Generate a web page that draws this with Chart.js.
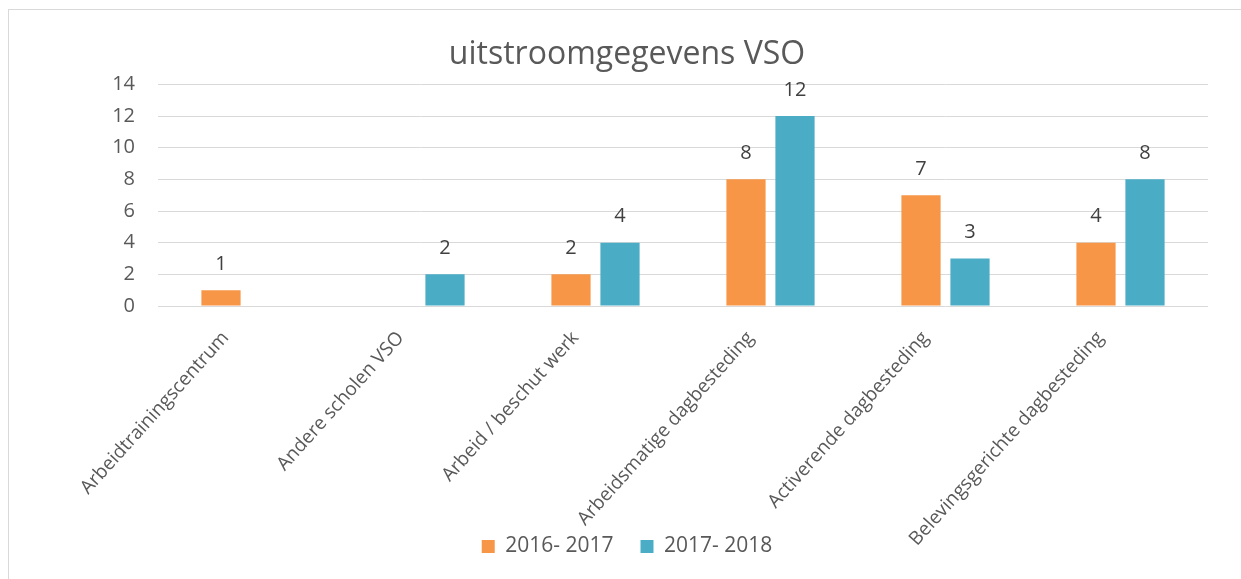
<!DOCTYPE html>
<html>
<head>
<meta charset="utf-8">
<script src="https://cdn.jsdelivr.net/npm/chart.js@4.4.1/dist/chart.umd.min.js"></script>
<style>
  html, body { margin: 0; padding: 0; background: #fff; overflow: hidden; }
  #frame { position: absolute; left: 8px; top: 9px; width: 1300px; height: 640px; border: 1px solid #d9d9d9; box-sizing: border-box; }
  #wrap { position: absolute; left: 8px; top: 9px; width: 1240px; height: 570px; }
</style>
</head>
<body>
<div id="frame"></div>
<div id="wrap"><canvas id="chartUitstroom"></canvas></div>
<script>
// uitstroomgegevens VSO - twee schooljaren naast elkaar
const categorieen = [
    'Arbeidtrainingscentrum',
    'Andere scholen VSO',
    'Arbeid / beschut werk',
    'Arbeidsmatige dagbesteding',
    'Activerende dagbesteding',
    'Belevingsgerichte dagbesteding'
];
const jaar2016 = [1, null, 2, 8, 7, 4];
const jaar2017 = [null, 2, 4, 12, 3, 8];
const yTicks = [0, 2, 4, 6, 8, 10, 12, 14];

const FONT = 'Open Sans';

// labels boven de staven tekenen (geen datalabels plugin beschikbaar)
const dataLabels = {
    id: 'dataLabels',
    afterDatasetsDraw(chart) {
        const ctx = chart.ctx;
        ctx.save();
        ctx.font = '20px "' + FONT + '"';
        ctx.fillStyle = '#404040';
        ctx.textAlign = 'center';
        ctx.textBaseline = 'middle';
        chart.data.datasets.forEach((ds, i) => {
            const meta = chart.getDatasetMeta(i);
            meta.data.forEach((bar, j) => {
                const v = ds.data[j];
                if (v === null || v === undefined) return;
                ctx.fillText(String(v), bar.x, bar.y - 26);
            });
        });
        ctx.restore();
    }
};

// lange categorie-labels mogen over de legenda heen lopen (zoals in Excel)
const noLabelClip = {
    id: 'noLabelClip',
    afterLayout(chart) {
        chart.scales.x.bottom = chart.height;
    }
};

new Chart(document.getElementById('chartUitstroom').getContext('2d'), {
    type: 'bar',
    data: {
        labels: categorieen,
        datasets: [
            { label: '2016- 2017', data: jaar2016, backgroundColor: '#F79646' },
            { label: '2017- 2018', data: jaar2017, backgroundColor: '#4BACC6' }
        ]
    },
    options: {
        responsive: true,
        maintainAspectRatio: false,
        animation: false,
        categoryPercentage: 0.56,
        barPercentage: 0.8,
        layout: { padding: { left: 38, right: 40, top: 0, bottom: 12 } },
        plugins: {
            title: {
                display: true,
                text: 'uitstroomgegevens VSO',
                color: '#595959',
                font: { family: FONT, size: 32, weight: 'normal' },
                padding: { top: 27, bottom: 10 }
            },
            legend: {
                position: 'bottom',
                labels: {
                    color: '#595959',
                    font: { family: FONT, size: 21 },
                    boxWidth: 13,
                    boxHeight: 13,
                    padding: 27
                }
            },
            tooltip: { enabled: false }
        },
        scales: {
            x: {
                grid: { display: false },
                border: { display: false },
                ticks: {
                    color: '#595959',
                    font: { family: FONT, size: 19 },
                    autoSkip: false,
                    minRotation: 48,
                    maxRotation: 48,
                    padding: 13,
                    labelOffset: -20
                },
                afterFit(scale) { scale.height = 203; }
            },
            y: {
                min: 0,
                max: 14,
                afterBuildTicks(scale) { scale.ticks = yTicks.map(v => ({ value: v })); },
                grid: { color: '#d9d9d9', lineWidth: 1, drawTicks: false },
                border: { display: false },
                ticks: {
                    color: '#595959',
                    font: { family: FONT, size: 20 },
                    padding: 23
                },
                afterFit(scale) { scale.width = 112; }
            }
        }
    },
    plugins: [dataLabels, noLabelClip]
});
</script>
</body>
</html>
